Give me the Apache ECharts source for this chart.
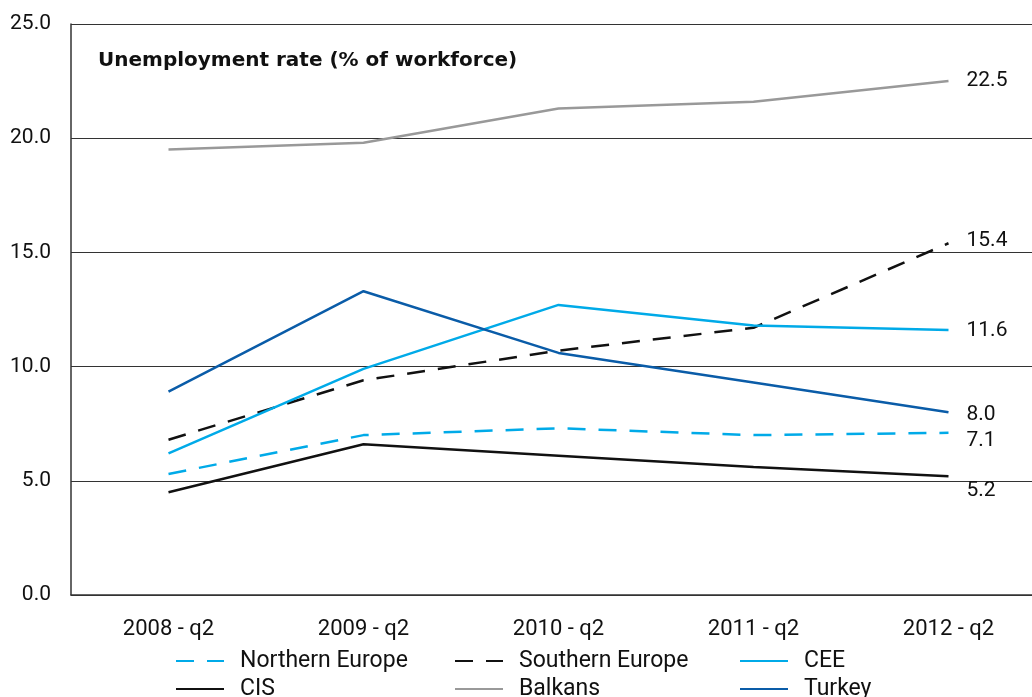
<!DOCTYPE html>
<html><head><meta charset="utf-8">
<script src="https://cdn.jsdelivr.net/npm/echarts@6/dist/echarts.min.js"></script>
<style>html,body{margin:0;padding:0;background:#fff}#c{width:1032px;height:697px}</style>
</head><body><div id="c"></div>
<script>
var categories = ['2008 - q2','2009 - q2','2010 - q2','2011 - q2','2012 - q2'];
var northernEurope = [5.3, 7.0, 7.3, 7.0, 7.1];
var southernEurope = [6.8, 9.4, 10.7, 11.7, 15.4];
var cee = [6.2, 9.9, 12.7, 11.8, 11.6];
var cis = [4.5, 6.6, 6.1, 5.6, 5.2];
var balkans = [19.5, 19.8, 21.3, 21.6, 22.5];
var turkey = [8.9, 13.3, 10.6, 9.3, 8.0];
var yTicks = [0, 5, 10, 15, 20, 25];

var chart = echarts.init(document.getElementById('c'));
var font = 'Roboto, "Liberation Sans", sans-serif';
function mk(name, data, color, dashed, labelOffsetY) {
  return {
    name: name, type: 'line', symbol: 'none', silent: true,
    data: data,
    endLabel: { show: true, distance: 18, offset: [0, labelOffsetY],
      formatter: function (p) { return Number(p.value).toFixed(1); },
      color: '#111', fontSize: 21, fontFamily: font },
    lineStyle: { color: color, width: 2.5, type: dashed ? [18, 13] : 'solid', cap: 'butt' },
    itemStyle: { color: color }
  };
}
function legend(left, names) {
  return { orient: 'vertical', left: left, top: 649, height: 60, padding: 0,
    itemWidth: 48, itemHeight: 12, itemGap: 4, selectedMode: false,
    itemStyle: { opacity: 0 },
    textStyle: { fontSize: 23, lineHeight: 24, color: '#111', fontFamily: font, padding: [0, 0, 0, 11] },
    data: names.map(function (n) { return { name: n }; }) };
}
chart.setOption({
  animation: false,
  grid: { left: 71, right: -14, top: 24, bottom: 102, containLabel: false, outerBoundsMode: 'none' },
  title: { text: 'Unemployment rate (% of workforce)', left: 98, top: 51, padding: 0,
    textStyle: { fontSize: 20, fontWeight: 'bold', color: '#111', fontFamily: '"DejaVu Sans", sans-serif' } },
  legend: [
    legend(175, ['Northern Europe', 'CIS']),
    legend(454, ['Southern Europe', 'Balkans']),
    legend(739, ['CEE', 'Turkey'])
  ],
  xAxis: {
    type: 'category', data: categories, boundaryGap: true,
    axisLine: { lineStyle: { color: '#333', width: 1.5 } },
    axisTick: { show: false },
    axisLabel: { margin: 23, fontSize: 22, color: '#111', fontFamily: font }
  },
  yAxis: {
    type: 'value', min: yTicks[0], max: yTicks[yTicks.length - 1], interval: 5,
    axisLine: { show: true, lineStyle: { color: '#333', width: 1.5 } },
    axisTick: { show: false },
    splitLine: { lineStyle: { color: '#333', width: 1.2 } },
    axisLabel: { margin: 20, fontSize: 21, color: '#111', fontFamily: font,
      formatter: function (v) { return v.toFixed(1); } }
  },
  series: [
    mk('Northern Europe', northernEurope, '#00aae8', true, 8),
    mk('Southern Europe', southernEurope, '#111111', true, -3),
    mk('CEE', cee, '#00aae8', false, 1),
    mk('CIS', cis, '#111111', false, 15),
    mk('Balkans', balkans, '#999999', false, 0),
    mk('Turkey', turkey, '#0a5ca8', false, 2)
  ]
});
</script></body></html>
